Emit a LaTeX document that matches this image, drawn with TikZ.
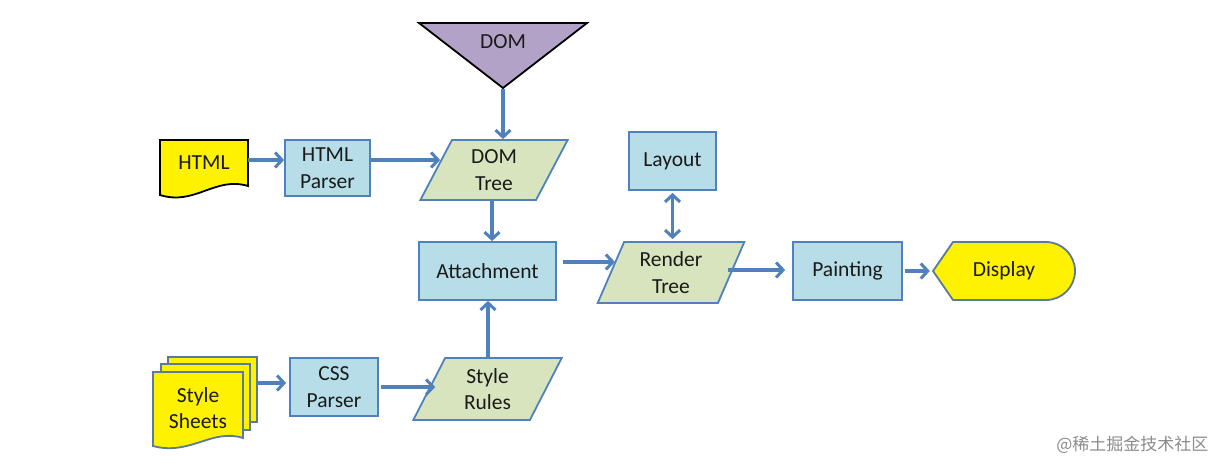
\documentclass[tikz,border=0pt]{standalone}
\usepackage{fontspec}
\setmainfont{Carlito}
\newfontfamily\cjk{Noto Sans CJK SC}
\usetikzlibrary{shapes.geometric,arrows.meta}
\definecolor{boxblue}{HTML}{B7DEE8}
\definecolor{boxgreen}{HTML}{D7E4BD}
\definecolor{edgeblue}{HTML}{4F81BD}
\definecolor{arrblue}{HTML}{4F81BD}
\definecolor{domviolet}{HTML}{B3A2C7}
\definecolor{txt}{HTML}{1A1A1A}
\definecolor{dispedge}{HTML}{5B7A99}
\tikzset{
  lbl/.style={font=\fontsize{21.5}{26.5}\selectfont, text=txt, align=center},
  bluebox/.style={lbl, rectangle, draw=edgeblue, line width=1.8pt, fill=boxblue, inner sep=0pt},
  greenpar/.style={lbl, trapezium, trapezium left angle=67, trapezium right angle=113,
     trapezium stretches=true, draw=edgeblue, line width=1.8pt, fill=boxgreen, inner sep=0pt},
  arr/.style={draw=arrblue, line width=3.5pt, -{Straight Barb[length=7pt,width=15pt,line width=3pt]}},
  darr/.style={draw=arrblue, line width=3.5pt, {Straight Barb[length=7pt,width=15pt,line width=3pt]}-{Straight Barb[length=7pt,width=15pt,line width=3pt]}},
  docshape/.style={fill=yellow, line width=1.8pt}
}
\begin{document}
\begin{tikzpicture}[x=1pt,y=-1pt]
\useasboundingbox[fill=white] (0,0) rectangle (1226,472);

% DOM triangle
\draw[fill=domviolet, draw=black, line width=1.8pt, line join=miter] (419,23) -- (587,23) -- (503,88) -- cycle;
\node[lbl] (domt) at (503,42) {DOM};
\coordinate (domapex) at (503,89);

% HTML document
\draw[docshape, draw=black] (160,140) -- (248,140) -- (248,186) .. controls (215,176) and (195,206) .. (160,195) -- cycle;
\node[lbl, minimum width=88pt, minimum height=56pt, inner sep=0pt] (html) at (204,166) {};
\node[lbl] (htmlt) at (204,163) {HTML};

% boxes
\node[bluebox, minimum width=85pt, minimum height=56pt] (hp) at (327.5,168) {HTML\\Parser};
\node[greenpar, minimum width=148pt, minimum height=60pt] (domtree) at (494,170) {DOM\\Tree};
\node[bluebox, minimum width=137pt, minimum height=58pt] (att) at (487.5,271) {Attachment};
\node[greenpar, minimum width=148pt, minimum height=61pt] (rt) at (671,272.5) {Render\\Tree};
\node[bluebox, minimum width=87pt, minimum height=58pt] (lay) at (672.5,161) {Layout};
\node[bluebox, minimum width=109pt, minimum height=58pt] (paint) at (847.5,271) {Painting};
\node[bluebox, minimum width=88pt, minimum height=58pt] (css) at (334,387) {CSS\\Parser};
\node[greenpar, minimum width=149pt, minimum height=62pt] (sr) at (487.5,389) {Style\\Rules};

% Display
\draw[fill=yellow, draw=dispedge, line width=1.8pt] (933,271) -- (953,242) -- (1046,242) arc[start angle=-90, end angle=90, radius=29] -- (953,300) -- cycle;
\node[lbl, minimum width=142pt, minimum height=58pt, inner sep=0pt] (disp) at (1004,271) {Display};

% Style sheets
\draw[docshape, draw=dispedge] (168,357) -- (257,357) -- (257,422) -- (168,422) -- cycle;
\draw[docshape, draw=dispedge] (161,364) -- (250,364) -- (250,430) -- (161,430) -- cycle;
\draw[docshape, draw=dispedge] (153,372) -- (243,372) -- (243,438) .. controls (212,428) and (190,456) .. (153,446) -- cycle;
\node[lbl, minimum width=104pt, minimum height=80pt, inner sep=0pt] (ss) at (205,400) {};
\node[lbl] (sst) at (198,408) {Style\\Sheets};

% connectors
\draw[arr] (html.east |- 0,160) -- (hp.west |- 0,160);
\draw[arr] (hp.east |- 0,160) -- ([xshift=5pt]domtree.west |- 0,160);
\draw[arr] (domapex) -- (domapex |- domtree.north);
\draw[arr] (492,0 |- domtree.south) -- (492,0 |- att.north);
\draw[arr] ([xshift=6pt]att.east |- 0,262) -- ([xshift=5pt]rt.west |- 0,262);
\draw[arr] ([xshift=-4pt]rt.east |- 0,270) -- ([xshift=-7pt]paint.west |- 0,270);
\draw[arr] ([xshift=2pt]paint.east) -- ([xshift=-3pt]disp.west);
\draw[darr] ([yshift=-2pt]lay.south) -- ([yshift=2pt]lay.south |- rt.north);
\draw[arr] (ss.east |- 0,383) -- ([xshift=-3pt]css.west |- 0,383);
\draw[arr] ([xshift=2pt]css.east |- 0,387) -- ([xshift=7pt]sr.west |- 0,387);
\draw[arr] (488,0 |- sr.north) -- (488,0 |- att.south);

% watermark
\node[font=\cjk\fontsize{17}{20}\selectfont, text=black!45, anchor=east] (wm) at (1212,445) {@稀土掘金技术社区};
\end{tikzpicture}
\end{document}
